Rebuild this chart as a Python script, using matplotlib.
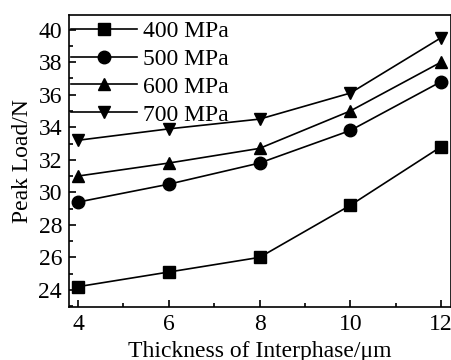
import matplotlib
matplotlib.use("Agg")
import matplotlib.pyplot as plt
from matplotlib.ticker import MultipleLocator

thickness = [4, 6, 8, 10, 12]
labels = ["400 MPa", "500 MPa", "600 MPa", "700 MPa"]
load_400 = [24.2, 25.1, 26.0, 29.2, 32.8]
load_500 = [29.4, 30.5, 31.8, 33.8, 36.8]
load_600 = [31.0, 31.8, 32.7, 35.0, 38.0]
load_700 = [33.2, 33.9, 34.5, 36.1, 39.5]
markers = ["s", "o", "^", "v"]

plt.rcParams['font.family'] = ['Liberation Serif', 'DejaVu Serif']
plt.rcParams['mathtext.fontset'] = 'stix'

fig = plt.figure(figsize=(4.52, 3.6), dpi=100)
ax = fig.add_axes([69/452, 1 - 307/360, (451-69)/452, (307-15)/360])

for vals, m, lab in zip([load_400, load_500, load_600, load_700], markers, labels):
    ax.plot(thickness, vals, color='black', lw=1.2, marker=m, ms=9, label=lab)

ax.set_xlim(3.8, 12.22)
ax.set_ylim(22.95, 40.9)
ax.xaxis.set_major_locator(MultipleLocator(2))
ax.xaxis.set_minor_locator(MultipleLocator(1))
ax.yaxis.set_major_locator(MultipleLocator(2))
ax.yaxis.set_minor_locator(MultipleLocator(1))
ax.tick_params(which='both', direction='in', top=False, right=False, labelsize=17, width=1.2)
ax.tick_params(which='major', length=5)
ax.tick_params(which='minor', length=3)
ax.tick_params(axis='y', pad=5)
ax.tick_params(axis='x', pad=5)
for s in ax.spines.values():
    s.set_linewidth(1.2)

ax.set_xlabel("Thickness of Interphase/μm", fontsize=17, labelpad=4)
ax.set_ylabel("Peak Load/N", fontsize=17, labelpad=4)

leg = ax.legend(loc='upper left', bbox_to_anchor=(0.0, 1.0 - 3.5/292),
                frameon=False, fontsize=17, handlelength=2.8,
                handletextpad=0.25, labelspacing=0.27, borderaxespad=0.0,
                borderpad=0.08)

fig.savefig("out.png", dpi=100)
